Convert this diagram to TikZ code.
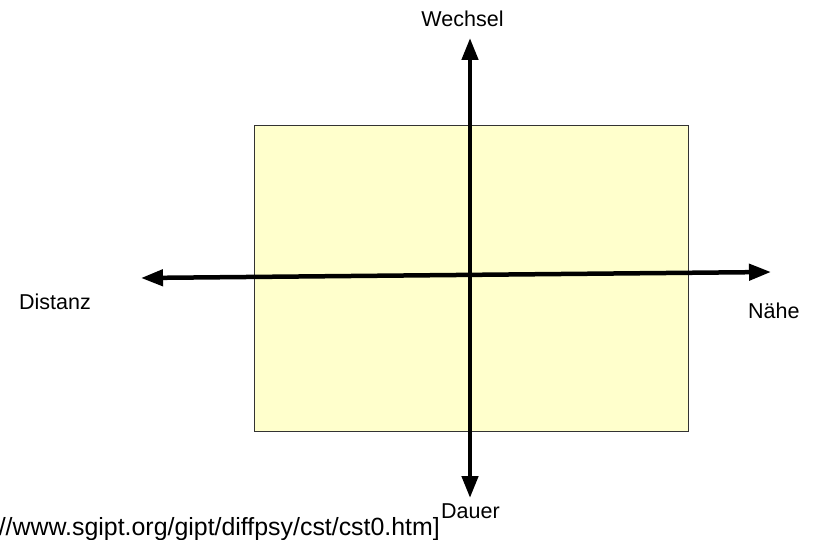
\documentclass[tikz,border=0pt]{standalone}
\usepackage{fontspec}
\setmainfont{Liberation Sans}
\usetikzlibrary{arrows.meta}
\definecolor{paleyellow}{HTML}{FFFFCC}
\definecolor{rectline}{HTML}{333333}
\begin{document}
\begin{tikzpicture}[x=1pt,y=-1pt,
  axis/.style={line width=4.5pt,-{Triangle[length=22pt,width=16pt]}},
  lbl/.style={inner sep=0pt,font=\fontsize{21.5}{25}\selectfont},
  field/.style={draw=rectline,line width=1pt,fill=paleyellow}]
\useasboundingbox (0,0) rectangle (816,540);
\node[field,minimum width=434pt,minimum height=306pt,anchor=north west,inner sep=0pt] (box) at (254,125) {};
\coordinate (vtop) at (470,38);
\coordinate (vbot) at (470,498);
\coordinate (hleft) at (141,278);
\coordinate (hright) at (771,272);
\coordinate (vstart) at (470,270);
\draw[axis] (vstart) -- (vtop);
\draw[axis] (vstart) -- (vbot);
\coordinate (hmid) at (456,275);
\draw[axis] (hmid) -- (hleft);
\draw[axis] (hmid) -- (hright);
\node[lbl,anchor=base] (wechsel) at (462.5,27) {Wechsel};
\node[lbl,anchor=base west] (distanz) at (19,309) {Distanz};
\node[lbl,anchor=base west] (naehe) at (748,318) {Nähe};
\node[lbl,anchor=base west] (dauer) at (441,518) {Dauer};
\node[lbl,anchor=base east,font=\fontsize{24.9}{28}\selectfont] (url) at (440,535) {//www.sgipt.org/gipt/diffpsy/cst/cst0.htm]};
\end{tikzpicture}
\end{document}
